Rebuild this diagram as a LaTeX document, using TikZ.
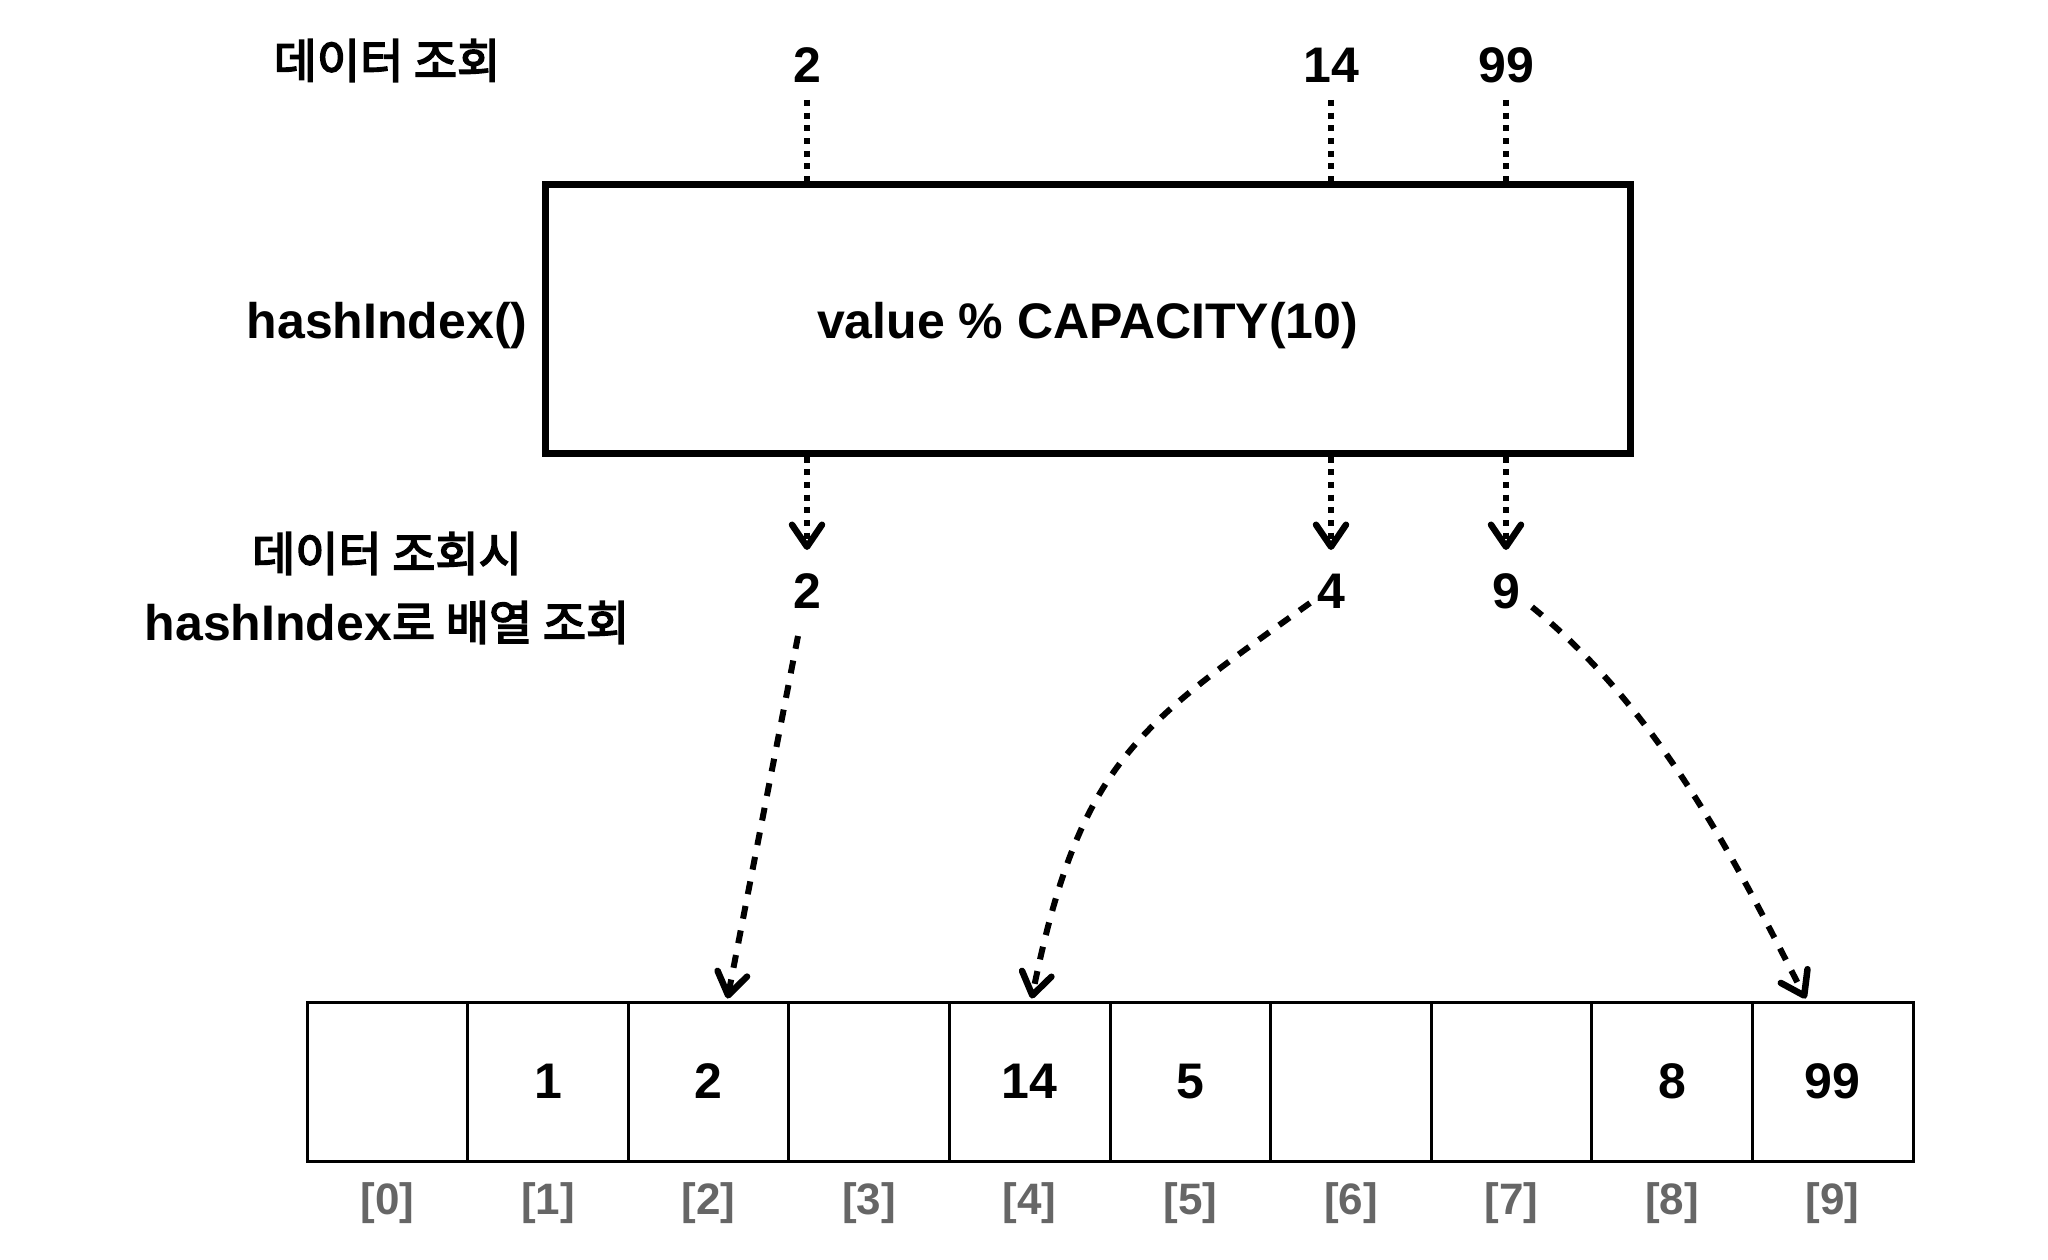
\documentclass[tikz,border=0pt]{standalone}
\usepackage{fontspec}
\setmainfont{Liberation Sans}
\newfontfamily\kr{Noto Sans CJK KR}[FakeBold=3.5]
\usetikzlibrary{arrows.meta,calc}
\definecolor{idxgray}{HTML}{666666}
\begin{document}
\begin{tikzpicture}[x=1pt,y=-1pt,
  numtxt/.style={anchor=base,inner sep=0pt,font=\fontsize{50}{60}\selectfont\bfseries},
  krtxt/.style={anchor=base,inner sep=0pt,font=\fontsize{47}{56}\selectfont},
  cellbox/.style={draw,line width=3pt,minimum width=160.6pt,minimum height=159pt,inner sep=0pt,
    font=\fontsize{50}{60}\selectfont\bfseries},
  idxtxt/.style={anchor=base,inner sep=0pt,text=idxgray,font=\fontsize{44}{52}\selectfont\bfseries},
  dotline/.style={line width=6pt,dash pattern=on 6pt off 6.7pt},
  dotarrow/.style={dotline,-{Straight Barb[length=22pt,width=30pt,line width=6.5pt,round]}},
  dasharrow/.style={line width=6pt,dash pattern=on 13pt off 12pt,
    -{Straight Barb[length=22pt,width=30pt,line width=6.5pt,round]}}
]
\useasboundingbox (0,0) rectangle (2048,1260);

% left labels
\node[krtxt] (lq) at (387,78) {\kr 데이터 조회};
\node[numtxt] (lh) at (387,338) {hashIndex()};
\node[krtxt] (ll1) at (387,571) {\kr 데이터 조회시};
\node[numtxt] (ll2) at (387,640) {hashIndex{\kr\mdseries\fontsize{47}{56}\selectfont 로 배열 조회}};

% hash box
\node[draw,line width=7pt,minimum width=1085pt,minimum height=268pt,inner sep=0pt] (box) at (1087.5,319) {};
\node[numtxt] (fn) at (1087.5,338) {value \% CAPACITY(10)};

% input values
\node[numtxt] (n2) at (807,83) {2};
\node[numtxt] (n14) at (1331,83) {14};
\node[numtxt] (n99) at (1506,83) {99};

% results
\node[numtxt] (r2) at (807,608) {2};
\node[numtxt] (r4) at (1331,608) {4};
\node[numtxt] (r9) at (1506,608) {9};

% array
\foreach \i/\v in {0/,1/1,2/2,3/,4/14,5/5,6/,7/,8/8,9/99}{
  \node[cellbox] (c\i) at (387.3+160.6*\i,1081.5) {\v};
  \node[idxtxt] (i\i) at (387.3+160.6*\i,1214) {[\i]};
}

% dotted lines into box
\draw[dotline] ($(n2.base)+(0,17)$) -- (n2.base |- box.north);
\draw[dotline] ($(n14.base)+(0,17)$) -- (n14.base |- box.north);
\draw[dotline] ($(n99.base)+(0,17)$) -- (n99.base |- box.north);

% dotted arrows out of box
\draw[dotarrow] (r2.base |- box.south) -- ($(r2.base)+(0,-58)$);
\draw[dotarrow] (r4.base |- box.south) -- ($(r4.base)+(0,-58)$);
\draw[dotarrow] (r9.base |- box.south) -- ($(r9.base)+(0,-58)$);

% dashed arrows to array
\draw[dasharrow] ($(r2.base)+(-9,28)$) -- ($(c2.north)+(19,-2)$);
\draw[dasharrow] ($(r4.base)+(-21,-5)$) .. controls (1140,725) and (1080,760) .. ($(c4.north)+(2,-2)$);
\draw[dasharrow] ($(r9.base)+(26,-1)$) .. controls (1663,714) and (1737,865) .. ($(c9.north)+(-27,-2)$);
\end{tikzpicture}
\end{document}
